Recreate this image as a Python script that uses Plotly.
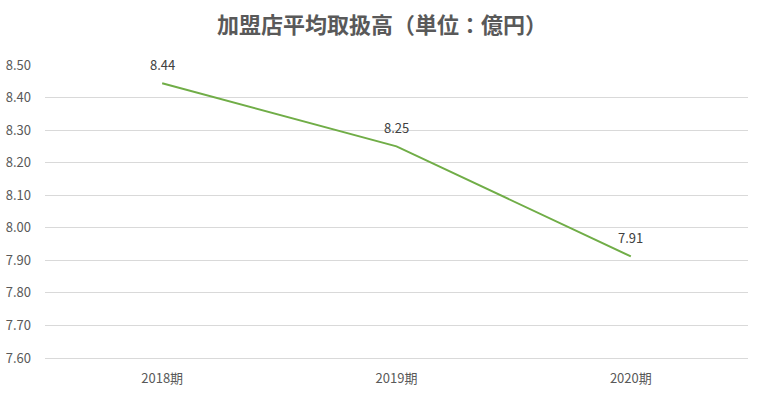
import plotly.graph_objects as go

categories = ["2018期", "2019期", "2020期"]
values = [8.444, 8.25, 7.912]
labels = ["8.44", "8.25", "7.91"]
y_ticks = [7.6, 7.7, 7.8, 7.9, 8.0, 8.1, 8.2, 8.3, 8.4, 8.5]

font_family = "Noto Sans CJK JP, Noto Sans, sans-serif"
fig = go.Figure()
fig.add_trace(go.Scatter(
    x=categories, y=values, mode="lines",
    line=dict(color="#70ad47", width=2), hoverinfo="skip", showlegend=False,
))
for c, v, t in zip(categories, values, labels):
    fig.add_annotation(x=c, y=v, text=t, showarrow=False, yshift=19,
                       font=dict(size=13, color="#404040", family=font_family))

fig.update_layout(
    width=764, height=398,
    margin=dict(l=45, r=16, t=65, b=40),
    paper_bgcolor="white", plot_bgcolor="white",
    title=dict(text="<b>加盟店平均取扱高（単位：億円）</b>", x=0.5, xanchor="center",
               y=0.937, yanchor="middle",
               font=dict(size=22, color="#595959", family=font_family)),
    font=dict(family=font_family, color="#595959", size=13),
)
fig.update_xaxes(range=[-0.5, 2.5], showgrid=False, showline=True, linecolor="#d9d9d9",
                 ticks="", ticklabelstandoff=8, automargin=False,
                 tickfont=dict(size=13, color="#595959"))
fig.update_yaxes(range=[7.6, 8.5], tickvals=y_ticks, tickformat=".2f",
                 showgrid=True, gridcolor="#d9d9d9", gridwidth=1, zeroline=False,
                 showline=False, ticks="", ticklabelstandoff=13, automargin=False,
                 tickfont=dict(size=13, color="#595959"))
fig.write_html("out.html", config={"displayModeBar": False},
               post_script="document.body.style.margin='0';")
